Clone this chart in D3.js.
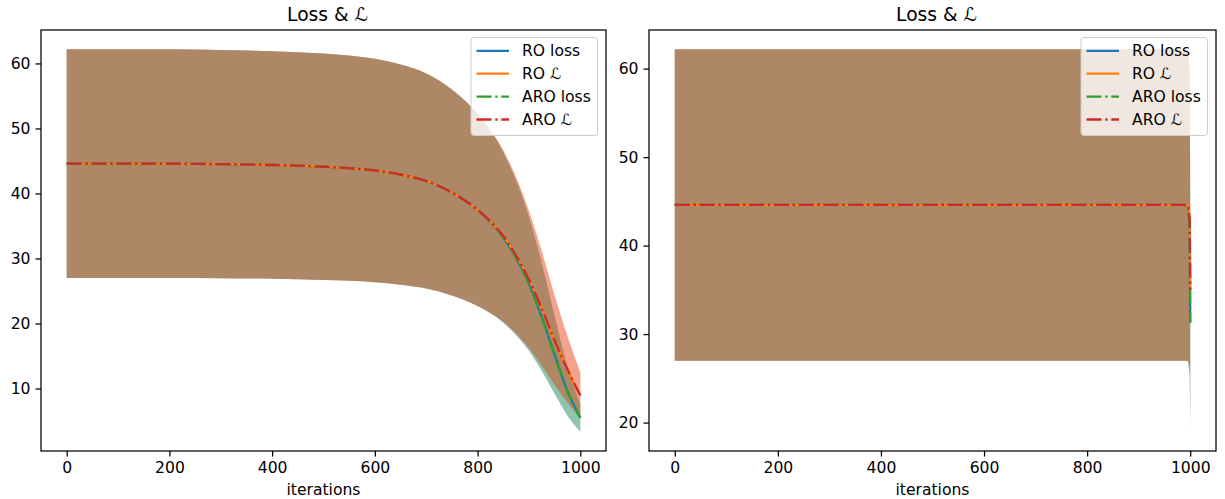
<!DOCTYPE html>
<html>
<head>
<meta charset="utf-8">
<script src="https://cdn.jsdelivr.net/npm/d3@7"></script>
<style>
  body { margin: 0; background: #fff; }
  svg { display: block; font-family: "DejaVu Sans", sans-serif; }
</style>
</head>
<body>
<svg id="chart" width="1225" height="499"></svg>
<script>
// left panel: smooth decay over the run
const leftIters     = [0, 100, 200, 300, 400, 500, 550, 600, 650, 700, 750, 800, 850, 900, 925, 950, 975, 1000];
const leftLMean     = [44.6, 44.6, 44.58, 44.51, 44.38, 44.11, 43.89, 43.53, 42.9, 41.92, 40.14, 37.46, 33.45, 26.76, 22.3, 17.39, 12.93, 8.92];
const leftLSd       = [17.6, 17.6, 17.59, 17.56, 17.51, 17.41, 17.32, 17.18, 16.93, 16.54, 15.84, 14.78, 13.2, 10.56, 8.8, 6.86, 5.1, 3.52];
const leftLossMean  = [44.6, 44.6, 44.58, 44.51, 44.38, 44.11, 43.89, 43.53, 42.9, 41.92, 40.14, 37.46, 33.23, 26.09, 20.96, 15.16, 9.59, 5.49];
const leftLossSd    = [17.6, 17.6, 17.59, 17.56, 17.51, 17.41, 17.32, 17.18, 16.93, 16.54, 15.84, 14.78, 13.11, 10.3, 8.27, 5.98, 3.78, 2.16];

// right panel: flat, then a sudden drop at the very end
const rightIters    = [0, 500, 990, 996, 999, 1000];
const rightLMean    = [44.6, 44.6, 44.6, 44.5, 43.0, 35.0];
const rightLSd      = [17.6, 17.6, 17.6, 17.55, 16.96, 13.8];
const rightLossMean = [44.6, 44.6, 44.6, 44.4, 42.0, 31.3];
const rightLossSd   = [17.6, 17.6, 17.6, 17.5, 16.6, 12.35];

const xTicks = [0, 200, 400, 600, 800, 1000];
const leftYTicks = [10, 20, 30, 40, 50, 60];
const rightYTicks = [20, 30, 40, 50, 60];

const seriesNames = ['RO loss', 'RO \u2112', 'ARO loss', 'ARO \u2112'];
const seriesColors = ['#1f77b4', '#ff7f0e', '#2ca02c', '#d62728'];
const seriesDashed = [false, false, true, true];

const svg = d3.select('#chart');
const dash = '15,3.75,2.3,3.75';

function drawPanel(box, iters, lossMean, lossSd, lMean, lSd, yTicks, curve) {
  const g = svg.append('g');

  // RO and ARO runs overlap exactly in the reference
  const series = seriesNames.map((name, i) => {
    const isLoss = i % 2 === 0;
    const mean = isLoss ? lossMean : lMean;
    const sd = isLoss ? lossSd : lSd;
    return {
      name, color: seriesColors[i], dashed: seriesDashed[i],
      pts: iters.map((t, j) => ({ t, m: mean[j], lo: mean[j] - sd[j], hi: mean[j] + sd[j] }))
    };
  });

  const allLo = d3.min(series, s => d3.min(s.pts, p => p.lo));
  const allHi = d3.max(series, s => d3.max(s.pts, p => p.hi));
  const pad = (allHi - allLo) * 0.05;

  const x = d3.scaleLinear().domain([-50, 1050]).range([box.x0, box.x1]);
  const y = d3.scaleLinear().domain([allLo - pad, allHi + pad]).range([box.y1, box.y0]);

  const area = d3.area().curve(curve)
    .x(d => x(d.t)).y0(d => y(d.lo)).y1(d => y(d.hi));
  const line = d3.line().curve(curve)
    .x(d => x(d.t)).y(d => y(d.m));

  g.selectAll('.band').data(series).enter().append('path')
    .attr('class', 'band')
    .attr('d', d => area(d.pts))
    .attr('fill', d => d.color)
    .attr('fill-opacity', 0.3);

  g.selectAll('.line').data(series).enter().append('path')
    .attr('class', 'line')
    .attr('d', d => line(d.pts))
    .attr('fill', 'none')
    .attr('stroke', d => d.color)
    .attr('stroke-width', 2.3)
    .attr('stroke-dasharray', d => d.dashed ? dash : null);

  // frame
  g.append('rect')
    .attr('x', box.x0).attr('y', box.y0)
    .attr('width', box.x1 - box.x0).attr('height', box.y1 - box.y0)
    .attr('fill', 'none').attr('stroke', '#000').attr('stroke-width', 1.25);

  const xAxis = g.append('g')
    .attr('transform', `translate(0,${box.y1})`)
    .call(d3.axisBottom(x).tickValues(xTicks).tickFormat(d3.format('d')).tickSize(5.5).tickPadding(5));
  const yAxis = g.append('g')
    .attr('transform', `translate(${box.x0},0)`)
    .call(d3.axisLeft(y).tickValues(yTicks).tickFormat(d3.format('d')).tickSize(5.5).tickPadding(5));
  [xAxis, yAxis].forEach(a => {
    a.select('.domain').remove();
    a.selectAll('line').attr('stroke', '#000').attr('stroke-width', 1.25);
    a.selectAll('text').attr('font-size', 15.6).attr('fill', '#000')
      .attr('font-family', '"DejaVu Sans", sans-serif');
  });

  g.append('text')
    .attr('x', (box.x0 + box.x1) / 2).attr('y', 490)
    .attr('text-anchor', 'middle').attr('dominant-baseline', 'central')
    .attr('font-size', 15.6).text('iterations');

  g.append('text')
    .attr('x', (box.x0 + box.x1) / 2 + 4).attr('y', 14)
    .attr('text-anchor', 'middle').attr('dominant-baseline', 'central')
    .attr('font-size', 18.7).text('Loss & \u2112');

  // legend, upper right
  const lx = box.x1 - 135, ly = box.y0 + 7.5;
  const leg = g.append('g').attr('transform', `translate(${lx},${ly})`);
  leg.append('rect')
    .attr('width', 126.5).attr('height', 98).attr('rx', 3)
    .attr('fill', '#fff').attr('fill-opacity', 0.8)
    .attr('stroke', '#cccccc').attr('stroke-width', 1);
  series.forEach((s, i) => {
    const cy = 13.3 + i * 22.9;
    leg.append('line')
      .attr('x1', 5.5).attr('x2', 38).attr('y1', cy).attr('y2', cy)
      .attr('stroke', s.color).attr('stroke-width', 2.3)
      .attr('stroke-dasharray', s.dashed ? dash : null);
    leg.append('text')
      .attr('x', 51).attr('y', cy)
      .attr('dominant-baseline', 'central')
      .attr('font-size', 15.6).text(s.name);
  });
}

drawPanel({ x0: 41, x1: 606, y0: 30, y1: 451 },
  leftIters, leftLossMean, leftLossSd, leftLMean, leftLSd, leftYTicks, d3.curveMonotoneX);
drawPanel({ x0: 649, x1: 1216, y0: 30, y1: 451 },
  rightIters, rightLossMean, rightLossSd, rightLMean, rightLSd, rightYTicks, d3.curveLinear);
</script>
</body>
</html>
